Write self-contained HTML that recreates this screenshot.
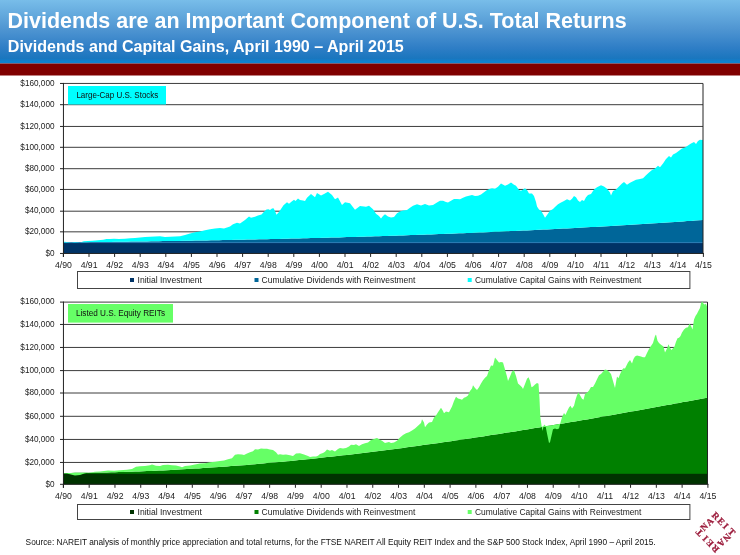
<!DOCTYPE html>
<html><head><meta charset="utf-8"><style>
html,body{margin:0;padding:0;background:#fff;}
body{width:740px;height:555px;overflow:hidden;}
svg{display:block;font-family:"Liberation Sans", sans-serif;will-change:transform;}
.ax{font-size:8.7px;fill:#222;}
.ay{font-size:9.1px;fill:#222;}
.bt{font-size:8.4px;fill:#111;}
.lg{font-size:8.2px;fill:#222;}
.src{font-size:8.9px;fill:#111;}
</style></head><body>
<svg width="740" height="555" viewBox="0 0 740 555">
<defs>
<linearGradient id="hdr" x1="0" y1="0" x2="0" y2="1">
<stop offset="0" stop-color="#78bde9"/>
<stop offset="0.45" stop-color="#5096d2"/>
<stop offset="0.75" stop-color="#2f7ec6"/>
<stop offset="0.92" stop-color="#1a76be"/>
<stop offset="0.97" stop-color="#0f82d0"/>
<stop offset="1" stop-color="#0f82d0"/>
</linearGradient>
</defs>
<rect x="0" y="0" width="740" height="63.5" fill="url(#hdr)"/>
<rect x="0" y="63.5" width="740" height="12" fill="#800000"/>
<text x="7.6" y="28.3" font-weight="bold" font-size="22.5" fill="#fff" textLength="619" lengthAdjust="spacingAndGlyphs">Dividends are an Important Component of U.S. Total Returns</text>
<text x="7.8" y="51.7" font-weight="bold" font-size="15.6" fill="#fff" textLength="396" lengthAdjust="spacingAndGlyphs">Dividends and Capital Gains, April 1990 &#8211; April 2015</text>
<line x1="63" y1="83.45" x2="703" y2="83.45" stroke="#3c3c3c" stroke-width="1"/>
<line x1="63" y1="104.70" x2="703" y2="104.70" stroke="#3c3c3c" stroke-width="1"/>
<line x1="63" y1="126.45" x2="703" y2="126.45" stroke="#3c3c3c" stroke-width="1"/>
<line x1="63" y1="147.30" x2="703" y2="147.30" stroke="#3c3c3c" stroke-width="1"/>
<line x1="63" y1="168.70" x2="703" y2="168.70" stroke="#3c3c3c" stroke-width="1"/>
<line x1="63" y1="189.45" x2="703" y2="189.45" stroke="#3c3c3c" stroke-width="1"/>
<line x1="63" y1="211.20" x2="703" y2="211.20" stroke="#3c3c3c" stroke-width="1"/>
<line x1="63" y1="231.84" x2="703" y2="231.84" stroke="#3c3c3c" stroke-width="1"/>
<polygon points="63,253.44 63.0,242.4 67.0,242.4 71.0,242.4 75.0,242.3 79.0,242.3 83.0,242.2 87.0,242.2 91.0,242.1 95.0,242.1 99.0,242.0 103.0,242.0 107.0,241.9 111.0,241.9 115.0,241.8 119.0,241.8 123.0,241.7 127.0,241.7 131.0,241.6 135.0,241.6 139.0,241.5 143.0,241.4 147.0,241.4 151.0,241.3 155.0,241.3 159.0,241.2 163.0,241.1 167.0,241.1 171.0,241.0 175.0,240.9 179.0,240.9 183.0,240.8 187.0,240.7 191.0,240.7 195.0,240.6 199.0,240.5 203.0,240.4 207.0,240.4 211.0,240.3 215.0,240.2 219.0,240.2 223.0,240.1 227.0,240.0 231.0,239.9 235.0,239.8 239.0,239.8 243.0,239.7 247.0,239.6 251.0,239.5 255.0,239.4 259.0,239.3 263.0,239.2 267.0,239.2 271.0,239.1 275.0,239.0 279.0,238.9 283.0,238.8 287.0,238.7 291.0,238.6 295.0,238.5 299.0,238.4 303.0,238.3 307.0,238.2 311.0,238.1 315.0,238.0 319.0,237.9 323.0,237.8 327.0,237.7 331.0,237.6 335.0,237.5 339.0,237.4 343.0,237.2 347.0,237.1 351.0,237.0 355.0,236.9 359.0,236.8 363.0,236.7 367.0,236.5 371.0,236.4 375.0,236.3 379.0,236.2 383.0,236.0 387.0,235.9 391.0,235.8 395.0,235.7 399.0,235.5 403.0,235.4 407.0,235.3 411.0,235.1 415.0,235.0 419.0,234.8 423.0,234.7 427.0,234.6 431.0,234.4 435.0,234.3 439.0,234.1 443.0,234.0 447.0,233.8 451.0,233.7 455.0,233.5 459.0,233.3 463.0,233.2 467.0,233.0 471.0,232.9 475.0,232.7 479.0,232.5 483.0,232.4 487.0,232.2 491.0,232.0 495.0,231.8 499.0,231.7 503.0,231.5 507.0,231.3 511.0,231.1 515.0,231.0 519.0,230.8 523.0,230.6 527.0,230.4 531.0,230.2 535.0,230.0 539.0,229.8 543.0,229.6 547.0,229.4 551.0,229.2 555.0,229.0 559.0,228.8 563.0,228.6 567.0,228.4 571.0,228.2 575.0,228.0 579.0,227.8 583.0,227.6 587.0,227.3 591.0,227.1 595.0,226.9 599.0,226.7 603.0,226.4 607.0,226.2 611.0,226.0 615.0,225.7 619.0,225.5 623.0,225.3 627.0,225.0 631.0,224.8 635.0,224.5 639.0,224.3 643.0,224.0 647.0,223.8 651.0,223.5 655.0,223.3 659.0,223.0 663.0,222.8 667.0,222.5 671.0,222.2 675.0,222.0 679.0,221.7 683.0,221.4 687.0,221.1 691.0,220.9 695.0,220.6 699.0,220.3 703.0,220.0 703,253.44" fill="#006699"/>
<rect x="63" y="242.6" width="640" height="10.840000000000003" fill="#003366"/>
<line x1="63" y1="242.6" x2="703" y2="242.6" stroke="#3a8cc4" stroke-width="0.8"/>
<polygon points="63.0,242.4 64.3,241.8 69.0,242.2 74.0,242.8 78.0,242.5 81.6,242.1 83.8,241.2 88.0,240.9 92.4,240.7 98.0,240.2 103.2,239.8 106.5,239.0 110.0,239.0 114.0,238.8 119.0,238.9 124.9,238.7 130.3,238.3 135.0,238.0 140.0,237.5 145.0,237.1 150.0,236.8 155.0,236.5 160.0,236.2 165.0,237.1 170.0,236.8 175.0,236.5 180.0,236.2 185.0,235.1 190.0,233.5 195.0,232.2 200.0,231.4 205.0,230.3 210.0,229.2 215.0,228.5 220.0,227.9 224.0,228.6 227.0,227.5 230.0,226.5 233.0,224.3 237.0,222.7 240.0,223.6 242.5,221.8 245.0,220.0 247.0,218.2 249.0,216.4 251.0,217.8 255.0,216.8 258.0,215.4 261.5,214.4 264.0,211.7 266.5,209.5 268.5,209.3 270.0,210.0 272.0,208.5 273.5,208.3 275.0,211.0 276.5,214.7 279.0,212.0 281.0,209.0 283.5,205.3 287.0,202.2 289.0,203.8 292.0,201.2 294.0,199.7 295.5,200.9 298.0,198.4 300.0,200.0 303.0,200.5 305.0,201.1 307.0,197.8 311.0,194.1 315.0,197.3 317.0,193.0 321.0,195.4 324.0,194.1 328.0,191.7 332.0,195.1 335.0,199.2 338.0,197.5 342.0,205.1 345.0,202.2 350.0,203.2 355.0,209.7 360.0,205.9 366.0,206.8 369.0,205.7 373.0,209.2 376.0,213.8 379.0,216.0 381.0,218.6 383.0,216.0 385.0,214.3 388.0,216.5 391.0,217.6 394.0,217.0 397.0,213.2 400.0,211.6 403.0,210.5 407.0,210.0 410.0,207.8 413.0,205.7 417.0,204.3 421.0,205.4 425.0,204.1 429.0,205.4 433.0,204.9 437.0,202.4 440.0,200.8 443.0,200.8 446.0,201.9 448.0,202.6 451.0,200.7 454.0,199.0 457.0,199.0 460.0,199.3 463.0,197.7 466.0,196.6 469.0,195.8 472.0,195.0 475.0,196.1 478.0,195.8 481.0,194.5 484.0,192.3 487.0,190.1 490.0,188.8 492.0,188.2 495.0,188.8 498.0,186.7 501.0,183.4 505.0,185.8 508.0,184.5 511.0,182.4 514.0,184.7 516.0,185.8 519.0,190.1 521.0,190.8 523.0,189.6 525.0,188.2 527.0,190.1 529.0,193.4 532.0,193.6 534.0,196.1 536.0,202.0 537.0,206.4 539.0,209.6 541.0,210.7 543.0,213.9 545.0,217.7 547.0,215.0 550.0,210.7 553.0,209.1 555.0,206.9 558.0,204.2 561.0,202.6 564.0,200.9 567.0,199.3 570.0,200.4 572.0,198.8 574.0,196.1 576.0,197.2 578.0,200.4 580.0,202.0 582.0,199.9 584.0,201.0 586.0,197.2 588.0,195.0 591.0,193.9 594.0,189.6 597.0,187.2 601.0,185.3 604.0,186.5 607.0,188.7 610.0,192.4 611.0,195.4 613.0,191.0 616.0,189.5 619.0,186.5 622.0,183.5 624.0,182.0 627.0,184.7 630.0,182.8 633.0,181.3 636.0,179.8 640.0,179.1 643.0,178.3 646.0,175.3 649.0,172.4 652.0,170.1 655.0,168.6 658.0,165.7 660.0,167.2 663.0,163.4 666.0,159.0 669.0,156.0 671.0,157.5 673.0,154.5 676.0,153.0 679.0,150.8 682.0,148.6 685.0,147.5 688.0,145.6 691.0,143.4 694.0,141.9 696.0,144.1 698.0,141.1 700.0,139.7 702.0,140.1 703.0,139.7 703.0,220.0 699.0,220.3 695.0,220.6 691.0,220.9 687.0,221.1 683.0,221.4 679.0,221.7 675.0,222.0 671.0,222.2 667.0,222.5 663.0,222.8 659.0,223.0 655.0,223.3 651.0,223.5 647.0,223.8 643.0,224.0 639.0,224.3 635.0,224.5 631.0,224.8 627.0,225.0 623.0,225.3 619.0,225.5 615.0,225.7 611.0,226.0 607.0,226.2 603.0,226.4 599.0,226.7 595.0,226.9 591.0,227.1 587.0,227.3 583.0,227.6 579.0,227.8 575.0,228.0 571.0,228.2 567.0,228.4 563.0,228.6 559.0,228.8 555.0,229.0 551.0,229.2 547.0,229.4 543.0,229.6 539.0,229.8 535.0,230.0 531.0,230.2 527.0,230.4 523.0,230.6 519.0,230.8 515.0,231.0 511.0,231.1 507.0,231.3 503.0,231.5 499.0,231.7 495.0,231.8 491.0,232.0 487.0,232.2 483.0,232.4 479.0,232.5 475.0,232.7 471.0,232.9 467.0,233.0 463.0,233.2 459.0,233.3 455.0,233.5 451.0,233.7 447.0,233.8 443.0,234.0 439.0,234.1 435.0,234.3 431.0,234.4 427.0,234.6 423.0,234.7 419.0,234.8 415.0,235.0 411.0,235.1 407.0,235.3 403.0,235.4 399.0,235.5 395.0,235.7 391.0,235.8 387.0,235.9 383.0,236.0 379.0,236.2 375.0,236.3 371.0,236.4 367.0,236.5 363.0,236.7 359.0,236.8 355.0,236.9 351.0,237.0 347.0,237.1 343.0,237.2 339.0,237.4 335.0,237.5 331.0,237.6 327.0,237.7 323.0,237.8 319.0,237.9 315.0,238.0 311.0,238.1 307.0,238.2 303.0,238.3 299.0,238.4 295.0,238.5 291.0,238.6 287.0,238.7 283.0,238.8 279.0,238.9 275.0,239.0 271.0,239.1 267.0,239.2 263.0,239.2 259.0,239.3 255.0,239.4 251.0,239.5 247.0,239.6 243.0,239.7 239.0,239.8 235.0,239.8 231.0,239.9 227.0,240.0 223.0,240.1 219.0,240.2 215.0,240.2 211.0,240.3 207.0,240.4 203.0,240.4 199.0,240.5 195.0,240.6 191.0,240.7 187.0,240.7 183.0,240.8 179.0,240.9 175.0,240.9 171.0,241.0 167.0,241.1 163.0,241.1 159.0,241.2 155.0,241.3 151.0,241.3 147.0,241.4 143.0,241.4 139.0,241.5 135.0,241.6 131.0,241.6 127.0,241.7 123.0,241.7 119.0,241.8 115.0,241.8 111.0,241.9 107.0,241.9 103.0,242.0 99.0,242.0 95.0,242.1 91.0,242.1 87.0,242.2 83.0,242.2 79.0,242.3 75.0,242.3 71.0,242.4 67.0,242.4 63.0,242.4" fill="#00ffff" fill-rule="nonzero"/>
<line x1="703" y1="83.45" x2="703" y2="253.44" stroke="#222" stroke-width="1"/>
<line x1="63.45" y1="83.45" x2="63.45" y2="256.94" stroke="#222" stroke-width="1"/>
<line x1="63" y1="253.44" x2="704" y2="253.44" stroke="#222" stroke-width="1"/>
<line x1="60" y1="83.45" x2="64" y2="83.45" stroke="#222" stroke-width="1"/>
<text x="54.5" y="85.65" text-anchor="end" class="ay" textLength="34.17" lengthAdjust="spacingAndGlyphs">$160,000</text>
<line x1="60" y1="104.7" x2="64" y2="104.7" stroke="#222" stroke-width="1"/>
<text x="54.5" y="106.90" text-anchor="end" class="ay" textLength="34.17" lengthAdjust="spacingAndGlyphs">$140,000</text>
<line x1="60" y1="126.45" x2="64" y2="126.45" stroke="#222" stroke-width="1"/>
<text x="54.5" y="128.65" text-anchor="end" class="ay" textLength="34.17" lengthAdjust="spacingAndGlyphs">$120,000</text>
<line x1="60" y1="147.3" x2="64" y2="147.3" stroke="#222" stroke-width="1"/>
<text x="54.5" y="149.50" text-anchor="end" class="ay" textLength="34.17" lengthAdjust="spacingAndGlyphs">$100,000</text>
<line x1="60" y1="168.7" x2="64" y2="168.7" stroke="#222" stroke-width="1"/>
<text x="54.5" y="170.90" text-anchor="end" class="ay" textLength="29.61" lengthAdjust="spacingAndGlyphs">$80,000</text>
<line x1="60" y1="189.45" x2="64" y2="189.45" stroke="#222" stroke-width="1"/>
<text x="54.5" y="191.65" text-anchor="end" class="ay" textLength="29.61" lengthAdjust="spacingAndGlyphs">$60,000</text>
<line x1="60" y1="211.2" x2="64" y2="211.2" stroke="#222" stroke-width="1"/>
<text x="54.5" y="213.40" text-anchor="end" class="ay" textLength="29.61" lengthAdjust="spacingAndGlyphs">$40,000</text>
<line x1="60" y1="231.84" x2="64" y2="231.84" stroke="#222" stroke-width="1"/>
<text x="54.5" y="234.04" text-anchor="end" class="ay" textLength="29.61" lengthAdjust="spacingAndGlyphs">$20,000</text>
<line x1="60" y1="253.44" x2="64" y2="253.44" stroke="#222" stroke-width="1"/>
<text x="54.5" y="255.64" text-anchor="end" class="ay" textLength="9.12" lengthAdjust="spacingAndGlyphs">$0</text>
<line x1="63.4" y1="253.44" x2="63.4" y2="256.94" stroke="#222" stroke-width="1"/>
<text x="63.5" y="267.6" text-anchor="middle" class="ax">4/90</text>
<line x1="89.0" y1="253.44" x2="89.0" y2="256.94" stroke="#222" stroke-width="1"/>
<text x="89.1" y="267.6" text-anchor="middle" class="ax">4/91</text>
<line x1="114.60000000000001" y1="253.44" x2="114.60000000000001" y2="256.94" stroke="#222" stroke-width="1"/>
<text x="114.7" y="267.6" text-anchor="middle" class="ax">4/92</text>
<line x1="140.20000000000002" y1="253.44" x2="140.20000000000002" y2="256.94" stroke="#222" stroke-width="1"/>
<text x="140.3" y="267.6" text-anchor="middle" class="ax">4/93</text>
<line x1="165.8" y1="253.44" x2="165.8" y2="256.94" stroke="#222" stroke-width="1"/>
<text x="165.9" y="267.6" text-anchor="middle" class="ax">4/94</text>
<line x1="191.4" y1="253.44" x2="191.4" y2="256.94" stroke="#222" stroke-width="1"/>
<text x="191.5" y="267.6" text-anchor="middle" class="ax">4/95</text>
<line x1="217.0" y1="253.44" x2="217.0" y2="256.94" stroke="#222" stroke-width="1"/>
<text x="217.1" y="267.6" text-anchor="middle" class="ax">4/96</text>
<line x1="242.6" y1="253.44" x2="242.6" y2="256.94" stroke="#222" stroke-width="1"/>
<text x="242.7" y="267.6" text-anchor="middle" class="ax">4/97</text>
<line x1="268.2" y1="253.44" x2="268.2" y2="256.94" stroke="#222" stroke-width="1"/>
<text x="268.3" y="267.6" text-anchor="middle" class="ax">4/98</text>
<line x1="293.79999999999995" y1="253.44" x2="293.79999999999995" y2="256.94" stroke="#222" stroke-width="1"/>
<text x="293.9" y="267.6" text-anchor="middle" class="ax">4/99</text>
<line x1="319.4" y1="253.44" x2="319.4" y2="256.94" stroke="#222" stroke-width="1"/>
<text x="319.5" y="267.6" text-anchor="middle" class="ax">4/00</text>
<line x1="345.0" y1="253.44" x2="345.0" y2="256.94" stroke="#222" stroke-width="1"/>
<text x="345.1" y="267.6" text-anchor="middle" class="ax">4/01</text>
<line x1="370.59999999999997" y1="253.44" x2="370.59999999999997" y2="256.94" stroke="#222" stroke-width="1"/>
<text x="370.7" y="267.6" text-anchor="middle" class="ax">4/02</text>
<line x1="396.2" y1="253.44" x2="396.2" y2="256.94" stroke="#222" stroke-width="1"/>
<text x="396.3" y="267.6" text-anchor="middle" class="ax">4/03</text>
<line x1="421.79999999999995" y1="253.44" x2="421.79999999999995" y2="256.94" stroke="#222" stroke-width="1"/>
<text x="421.9" y="267.6" text-anchor="middle" class="ax">4/04</text>
<line x1="447.4" y1="253.44" x2="447.4" y2="256.94" stroke="#222" stroke-width="1"/>
<text x="447.5" y="267.6" text-anchor="middle" class="ax">4/05</text>
<line x1="473.0" y1="253.44" x2="473.0" y2="256.94" stroke="#222" stroke-width="1"/>
<text x="473.1" y="267.6" text-anchor="middle" class="ax">4/06</text>
<line x1="498.59999999999997" y1="253.44" x2="498.59999999999997" y2="256.94" stroke="#222" stroke-width="1"/>
<text x="498.7" y="267.6" text-anchor="middle" class="ax">4/07</text>
<line x1="524.1999999999999" y1="253.44" x2="524.1999999999999" y2="256.94" stroke="#222" stroke-width="1"/>
<text x="524.3" y="267.6" text-anchor="middle" class="ax">4/08</text>
<line x1="549.8" y1="253.44" x2="549.8" y2="256.94" stroke="#222" stroke-width="1"/>
<text x="549.9" y="267.6" text-anchor="middle" class="ax">4/09</text>
<line x1="575.4" y1="253.44" x2="575.4" y2="256.94" stroke="#222" stroke-width="1"/>
<text x="575.5" y="267.6" text-anchor="middle" class="ax">4/10</text>
<line x1="601.0" y1="253.44" x2="601.0" y2="256.94" stroke="#222" stroke-width="1"/>
<text x="601.1" y="267.6" text-anchor="middle" class="ax">4/11</text>
<line x1="626.6" y1="253.44" x2="626.6" y2="256.94" stroke="#222" stroke-width="1"/>
<text x="626.7" y="267.6" text-anchor="middle" class="ax">4/12</text>
<line x1="652.1999999999999" y1="253.44" x2="652.1999999999999" y2="256.94" stroke="#222" stroke-width="1"/>
<text x="652.3" y="267.6" text-anchor="middle" class="ax">4/13</text>
<line x1="677.8" y1="253.44" x2="677.8" y2="256.94" stroke="#222" stroke-width="1"/>
<text x="677.9" y="267.6" text-anchor="middle" class="ax">4/14</text>
<line x1="703.4" y1="253.44" x2="703.4" y2="256.94" stroke="#222" stroke-width="1"/>
<text x="703.5" y="267.6" text-anchor="middle" class="ax">4/15</text>
<rect x="68" y="86" width="98" height="18.5" fill="#00ffff"/>
<text x="76.4" y="97.8" class="bt" textLength="82" lengthAdjust="spacingAndGlyphs">Large-Cap U.S. Stocks</text>
<rect x="77.5" y="271.5" width="612.4" height="17" fill="#fff" stroke="#444" stroke-width="1"/>
<rect x="130" y="278" width="4" height="4" fill="#003366"/>
<text x="137.5" y="283" class="lg" textLength="64.5" lengthAdjust="spacingAndGlyphs">Initial Investment</text>
<rect x="254.5" y="278" width="4" height="4" fill="#006699"/>
<text x="261.6" y="283" class="lg" textLength="153.8" lengthAdjust="spacingAndGlyphs">Cumulative Dividends with Reinvestment</text>
<rect x="467.7" y="278" width="4" height="4" fill="#00ffff"/>
<text x="474.9" y="283" class="lg" textLength="166.5" lengthAdjust="spacingAndGlyphs">Cumulative Capital Gains with Reinvestment</text>
<line x1="63" y1="302.10" x2="707.5" y2="302.10" stroke="#3c3c3c" stroke-width="1"/>
<line x1="63" y1="324.45" x2="707.5" y2="324.45" stroke="#3c3c3c" stroke-width="1"/>
<line x1="63" y1="347.45" x2="707.5" y2="347.45" stroke="#3c3c3c" stroke-width="1"/>
<line x1="63" y1="370.60" x2="707.5" y2="370.60" stroke="#3c3c3c" stroke-width="1"/>
<line x1="63" y1="393.00" x2="707.5" y2="393.00" stroke="#3c3c3c" stroke-width="1"/>
<line x1="63" y1="416.30" x2="707.5" y2="416.30" stroke="#3c3c3c" stroke-width="1"/>
<line x1="63" y1="439.45" x2="707.5" y2="439.45" stroke="#3c3c3c" stroke-width="1"/>
<line x1="63" y1="462.45" x2="707.5" y2="462.45" stroke="#3c3c3c" stroke-width="1"/>
<polygon points="63,484.3 63.0,473.5 67.0,472.9 71.0,472.9 75.0,472.8 79.0,472.8 83.0,472.8 87.0,472.7 91.0,472.7 95.0,472.6 99.0,472.5 103.0,472.4 107.0,472.4 111.0,472.3 115.0,472.2 119.0,472.1 123.0,471.9 127.0,471.8 131.0,471.7 135.0,471.5 139.0,471.4 143.0,471.2 147.0,471.1 151.0,470.9 155.0,470.7 159.0,470.6 163.0,470.4 167.0,470.2 171.0,470.0 175.0,469.8 179.0,469.5 183.0,469.3 187.0,469.1 191.0,468.8 195.0,468.6 199.0,468.4 203.0,468.1 207.0,467.8 211.0,467.6 215.0,467.3 219.0,467.0 223.0,466.7 227.0,466.4 231.0,466.1 235.0,465.8 239.0,465.5 243.0,465.2 247.0,464.9 251.0,464.5 255.0,464.2 259.0,463.8 263.0,463.5 267.0,463.1 271.0,462.8 275.0,462.4 279.0,462.0 283.0,461.7 287.0,461.3 291.0,460.9 295.0,460.5 299.0,460.1 303.0,459.7 307.0,459.3 311.0,458.9 315.0,458.4 319.0,458.0 323.0,457.6 327.0,457.1 331.0,456.7 335.0,456.2 339.0,455.8 343.0,455.3 347.0,454.9 351.0,454.4 355.0,453.9 359.0,453.4 363.0,453.0 367.0,452.5 371.0,452.0 375.0,451.5 379.0,451.0 383.0,450.5 387.0,449.9 391.0,449.4 395.0,448.9 399.0,448.4 403.0,447.9 407.0,447.3 411.0,446.8 415.0,446.2 419.0,445.7 423.0,445.1 427.0,444.6 431.0,444.0 435.0,443.5 439.0,442.9 443.0,442.3 447.0,441.7 451.0,441.2 455.0,440.6 459.0,440.0 463.0,439.4 467.0,438.8 471.0,438.2 475.0,437.6 479.0,437.0 483.0,436.4 487.0,435.8 491.0,435.1 495.0,434.5 499.0,433.9 503.0,433.3 507.0,432.6 511.0,432.0 515.0,431.4 519.0,430.7 523.0,430.1 527.0,429.4 531.0,428.8 535.0,428.1 539.0,427.5 543.0,426.8 547.0,426.1 551.0,425.5 555.0,424.8 559.0,424.1 563.0,423.5 567.0,422.8 571.0,422.1 575.0,421.4 579.0,420.7 583.0,420.1 587.0,419.4 591.0,418.7 595.0,418.0 599.0,417.3 603.0,416.6 607.0,415.9 611.0,415.2 615.0,414.5 619.0,413.8 623.0,413.0 627.0,412.3 631.0,411.6 635.0,410.9 639.0,410.2 643.0,409.5 647.0,408.7 651.0,408.0 655.0,407.3 659.0,406.6 663.0,405.8 667.0,405.1 671.0,404.4 675.0,403.6 679.0,402.9 683.0,402.1 687.0,401.4 691.0,400.7 695.0,399.9 699.0,399.2 703.0,398.4 707.0,397.7 707.5,397.6 707.5,484.3" fill="#008000"/>
<rect x="63" y="473.8" width="644.5" height="10.5" fill="#003300"/>
<polygon points="63.0,473.4 67.0,473.5 70.0,474.3 75.0,475.4 80.0,475.1 85.0,473.2 90.0,472.5 95.0,471.8 100.0,471.4 108.0,470.5 114.0,470.8 120.0,470.3 127.0,469.7 132.0,468.9 136.0,466.8 140.0,466.2 145.0,466.1 150.0,465.3 152.0,464.5 156.0,465.8 160.0,466.1 163.0,465.0 168.0,464.8 172.0,465.2 176.0,465.5 180.0,466.6 182.0,467.2 185.0,466.1 190.0,465.5 195.0,464.5 200.0,463.6 205.0,463.2 210.0,462.3 215.0,461.8 220.0,461.0 224.0,460.4 228.0,459.3 232.0,458.2 235.0,454.7 238.0,454.2 242.0,454.5 244.0,455.0 247.0,453.6 250.0,452.3 253.0,451.2 255.0,449.3 258.0,449.6 261.0,448.5 264.0,448.8 267.0,448.8 270.0,449.6 273.0,450.1 276.0,452.3 278.0,454.8 280.0,454.2 283.0,454.7 286.0,454.5 290.0,455.3 293.0,456.1 296.0,453.4 300.0,453.3 304.0,454.4 308.0,456.1 310.0,456.9 313.0,456.4 316.0,456.6 318.0,455.8 320.0,454.0 323.0,452.9 325.0,451.8 327.0,449.6 330.0,450.7 332.0,450.1 335.0,451.5 338.0,449.0 340.0,447.9 343.0,448.6 346.0,447.9 349.0,446.6 351.0,444.7 354.0,445.0 356.0,444.2 359.0,446.1 362.0,444.2 365.0,443.2 368.0,442.5 371.0,440.1 374.0,439.1 377.0,438.0 379.0,439.2 382.0,440.8 385.0,443.0 387.0,442.4 389.0,441.9 391.0,443.0 394.0,442.4 397.0,440.8 400.0,437.6 403.0,434.9 406.0,433.2 409.0,432.2 412.0,430.5 415.0,428.4 418.0,425.7 421.0,423.0 422.0,419.2 424.0,422.4 425.0,427.3 427.0,424.6 429.0,422.4 432.0,421.9 434.0,417.6 436.0,415.4 438.0,412.2 441.0,407.8 443.0,411.1 444.0,413.2 446.0,411.6 449.0,412.2 452.0,406.5 454.0,401.1 456.0,396.7 458.0,398.6 460.0,399.0 462.0,399.8 464.0,397.7 466.0,396.9 468.0,395.4 470.0,391.0 472.0,388.5 473.0,385.3 475.0,387.9 477.0,390.1 479.0,387.2 481.0,383.4 483.0,380.3 485.0,377.8 487.0,375.9 489.0,370.2 491.0,365.4 493.0,365.8 495.0,357.6 497.0,360.1 499.0,362.4 501.0,362.0 503.0,362.4 505.0,369.6 507.0,376.5 508.0,380.9 510.0,376.5 512.0,371.5 514.0,370.2 516.0,375.9 518.0,383.4 520.0,385.3 522.0,387.2 523.0,389.1 525.0,384.0 527.0,378.8 528.5,377.2 530.0,380.8 531.5,387.3 533.0,386.6 535.0,384.4 537.0,383.0 538.5,383.7 539.5,398.8 540.3,417.0 541.5,425.3 542.5,431.0 544.0,424.5 545.5,425.7 547.0,433.4 549.0,443.1 550.0,442.3 551.5,435.8 553.0,429.3 555.0,428.5 557.0,429.3 559.0,428.5 560.5,422.4 562.0,417.2 564.0,413.1 565.5,415.1 567.0,411.6 569.0,407.5 570.5,405.7 572.0,408.6 574.0,405.7 575.5,399.8 577.0,395.2 578.5,392.2 580.0,395.2 582.0,398.7 583.5,399.8 585.0,394.0 587.0,392.8 589.0,390.5 591.0,387.0 593.0,387.0 595.0,383.4 597.0,379.3 599.0,375.2 601.0,374.1 603.0,371.7 605.0,369.4 607.0,370.0 609.0,371.7 611.0,374.1 613.0,381.1 615.0,388.1 616.0,382.3 617.0,376.5 618.5,378.2 620.0,374.2 622.0,370.1 623.5,368.3 625.0,368.5 626.5,365.4 628.0,362.4 630.0,360.1 632.0,363.6 633.5,358.9 635.0,356.6 637.0,355.4 639.0,356.0 641.0,356.6 643.0,357.2 645.0,357.2 647.0,353.1 649.0,349.0 651.0,346.1 653.0,343.1 655.0,336.1 656.0,334.4 657.5,340.8 659.0,343.1 661.0,344.8 663.5,346.5 665.0,352.4 667.0,348.6 668.5,344.2 670.0,347.7 671.5,350.0 673.0,348.3 674.5,346.5 676.0,341.8 677.5,338.3 679.0,337.7 680.5,336.0 682.0,332.5 684.0,329.5 686.0,327.8 688.0,327.2 689.5,323.7 691.0,326.0 692.5,329.5 694.0,319.6 695.5,316.1 697.0,313.7 698.5,310.8 700.0,307.9 701.0,303.2 702.5,301.4 703.5,303.8 704.5,304.4 706.0,303.8 707.5,307.9 707.5,397.6 707.0,397.7 703.0,398.4 699.0,399.2 695.0,399.9 691.0,400.7 687.0,401.4 683.0,402.1 679.0,402.9 675.0,403.6 671.0,404.4 667.0,405.1 663.0,405.8 659.0,406.6 655.0,407.3 651.0,408.0 647.0,408.7 643.0,409.5 639.0,410.2 635.0,410.9 631.0,411.6 627.0,412.3 623.0,413.0 619.0,413.8 615.0,414.5 611.0,415.2 607.0,415.9 603.0,416.6 599.0,417.3 595.0,418.0 591.0,418.7 587.0,419.4 583.0,420.1 579.0,420.7 575.0,421.4 571.0,422.1 567.0,422.8 563.0,423.5 559.0,424.1 555.0,424.8 551.0,425.5 547.0,426.1 543.0,426.8 539.0,427.5 535.0,428.1 531.0,428.8 527.0,429.4 523.0,430.1 519.0,430.7 515.0,431.4 511.0,432.0 507.0,432.6 503.0,433.3 499.0,433.9 495.0,434.5 491.0,435.1 487.0,435.8 483.0,436.4 479.0,437.0 475.0,437.6 471.0,438.2 467.0,438.8 463.0,439.4 459.0,440.0 455.0,440.6 451.0,441.2 447.0,441.7 443.0,442.3 439.0,442.9 435.0,443.5 431.0,444.0 427.0,444.6 423.0,445.1 419.0,445.7 415.0,446.2 411.0,446.8 407.0,447.3 403.0,447.9 399.0,448.4 395.0,448.9 391.0,449.4 387.0,449.9 383.0,450.5 379.0,451.0 375.0,451.5 371.0,452.0 367.0,452.5 363.0,453.0 359.0,453.4 355.0,453.9 351.0,454.4 347.0,454.9 343.0,455.3 339.0,455.8 335.0,456.2 331.0,456.7 327.0,457.1 323.0,457.6 319.0,458.0 315.0,458.4 311.0,458.9 307.0,459.3 303.0,459.7 299.0,460.1 295.0,460.5 291.0,460.9 287.0,461.3 283.0,461.7 279.0,462.0 275.0,462.4 271.0,462.8 267.0,463.1 263.0,463.5 259.0,463.8 255.0,464.2 251.0,464.5 247.0,464.9 243.0,465.2 239.0,465.5 235.0,465.8 231.0,466.1 227.0,466.4 223.0,466.7 219.0,467.0 215.0,467.3 211.0,467.6 207.0,467.8 203.0,468.1 199.0,468.4 195.0,468.6 191.0,468.8 187.0,469.1 183.0,469.3 179.0,469.5 175.0,469.8 171.0,470.0 167.0,470.2 163.0,470.4 159.0,470.6 155.0,470.7 151.0,470.9 147.0,471.1 143.0,471.2 139.0,471.4 135.0,471.5 131.0,471.7 127.0,471.8 123.0,471.9 119.0,472.1 115.0,472.2 111.0,472.3 107.0,472.4 103.0,472.4 99.0,472.5 95.0,472.6 91.0,472.7 87.0,472.7 83.0,472.8 79.0,472.8 75.0,472.8 71.0,472.9 67.0,472.9 63.0,473.5" fill="#66ff66" fill-rule="nonzero"/>
<line x1="707.5" y1="302.1" x2="707.5" y2="484.3" stroke="#222" stroke-width="1"/>
<line x1="63.45" y1="302.1" x2="63.45" y2="487.8" stroke="#222" stroke-width="1"/>
<line x1="63" y1="484.3" x2="708.5" y2="484.3" stroke="#222" stroke-width="1"/>
<line x1="60" y1="302.1" x2="64" y2="302.1" stroke="#222" stroke-width="1"/>
<text x="54.5" y="304.30" text-anchor="end" class="ay" textLength="34.17" lengthAdjust="spacingAndGlyphs">$160,000</text>
<line x1="60" y1="324.45" x2="64" y2="324.45" stroke="#222" stroke-width="1"/>
<text x="54.5" y="326.65" text-anchor="end" class="ay" textLength="34.17" lengthAdjust="spacingAndGlyphs">$140,000</text>
<line x1="60" y1="347.45" x2="64" y2="347.45" stroke="#222" stroke-width="1"/>
<text x="54.5" y="349.65" text-anchor="end" class="ay" textLength="34.17" lengthAdjust="spacingAndGlyphs">$120,000</text>
<line x1="60" y1="370.6" x2="64" y2="370.6" stroke="#222" stroke-width="1"/>
<text x="54.5" y="372.80" text-anchor="end" class="ay" textLength="34.17" lengthAdjust="spacingAndGlyphs">$100,000</text>
<line x1="60" y1="393.0" x2="64" y2="393.0" stroke="#222" stroke-width="1"/>
<text x="54.5" y="395.20" text-anchor="end" class="ay" textLength="29.61" lengthAdjust="spacingAndGlyphs">$80,000</text>
<line x1="60" y1="416.3" x2="64" y2="416.3" stroke="#222" stroke-width="1"/>
<text x="54.5" y="418.50" text-anchor="end" class="ay" textLength="29.61" lengthAdjust="spacingAndGlyphs">$60,000</text>
<line x1="60" y1="439.45" x2="64" y2="439.45" stroke="#222" stroke-width="1"/>
<text x="54.5" y="441.65" text-anchor="end" class="ay" textLength="29.61" lengthAdjust="spacingAndGlyphs">$40,000</text>
<line x1="60" y1="462.45" x2="64" y2="462.45" stroke="#222" stroke-width="1"/>
<text x="54.5" y="464.65" text-anchor="end" class="ay" textLength="29.61" lengthAdjust="spacingAndGlyphs">$20,000</text>
<line x1="60" y1="484.3" x2="64" y2="484.3" stroke="#222" stroke-width="1"/>
<text x="54.5" y="486.50" text-anchor="end" class="ay" textLength="9.12" lengthAdjust="spacingAndGlyphs">$0</text>
<line x1="63.4" y1="484.3" x2="63.4" y2="487.8" stroke="#222" stroke-width="1"/>
<text x="63.5" y="498.5" text-anchor="middle" class="ax">4/90</text>
<line x1="89.18" y1="484.3" x2="89.18" y2="487.8" stroke="#222" stroke-width="1"/>
<text x="89.3" y="498.5" text-anchor="middle" class="ax">4/91</text>
<line x1="114.96000000000001" y1="484.3" x2="114.96000000000001" y2="487.8" stroke="#222" stroke-width="1"/>
<text x="115.1" y="498.5" text-anchor="middle" class="ax">4/92</text>
<line x1="140.74" y1="484.3" x2="140.74" y2="487.8" stroke="#222" stroke-width="1"/>
<text x="140.8" y="498.5" text-anchor="middle" class="ax">4/93</text>
<line x1="166.52" y1="484.3" x2="166.52" y2="487.8" stroke="#222" stroke-width="1"/>
<text x="166.6" y="498.5" text-anchor="middle" class="ax">4/94</text>
<line x1="192.3" y1="484.3" x2="192.3" y2="487.8" stroke="#222" stroke-width="1"/>
<text x="192.4" y="498.5" text-anchor="middle" class="ax">4/95</text>
<line x1="218.08" y1="484.3" x2="218.08" y2="487.8" stroke="#222" stroke-width="1"/>
<text x="218.2" y="498.5" text-anchor="middle" class="ax">4/96</text>
<line x1="243.86" y1="484.3" x2="243.86" y2="487.8" stroke="#222" stroke-width="1"/>
<text x="244.0" y="498.5" text-anchor="middle" class="ax">4/97</text>
<line x1="269.64" y1="484.3" x2="269.64" y2="487.8" stroke="#222" stroke-width="1"/>
<text x="269.7" y="498.5" text-anchor="middle" class="ax">4/98</text>
<line x1="295.41999999999996" y1="484.3" x2="295.41999999999996" y2="487.8" stroke="#222" stroke-width="1"/>
<text x="295.5" y="498.5" text-anchor="middle" class="ax">4/99</text>
<line x1="321.2" y1="484.3" x2="321.2" y2="487.8" stroke="#222" stroke-width="1"/>
<text x="321.3" y="498.5" text-anchor="middle" class="ax">4/00</text>
<line x1="346.97999999999996" y1="484.3" x2="346.97999999999996" y2="487.8" stroke="#222" stroke-width="1"/>
<text x="347.1" y="498.5" text-anchor="middle" class="ax">4/01</text>
<line x1="372.76" y1="484.3" x2="372.76" y2="487.8" stroke="#222" stroke-width="1"/>
<text x="372.9" y="498.5" text-anchor="middle" class="ax">4/02</text>
<line x1="398.53999999999996" y1="484.3" x2="398.53999999999996" y2="487.8" stroke="#222" stroke-width="1"/>
<text x="398.6" y="498.5" text-anchor="middle" class="ax">4/03</text>
<line x1="424.32" y1="484.3" x2="424.32" y2="487.8" stroke="#222" stroke-width="1"/>
<text x="424.4" y="498.5" text-anchor="middle" class="ax">4/04</text>
<line x1="450.09999999999997" y1="484.3" x2="450.09999999999997" y2="487.8" stroke="#222" stroke-width="1"/>
<text x="450.2" y="498.5" text-anchor="middle" class="ax">4/05</text>
<line x1="475.88" y1="484.3" x2="475.88" y2="487.8" stroke="#222" stroke-width="1"/>
<text x="476.0" y="498.5" text-anchor="middle" class="ax">4/06</text>
<line x1="501.65999999999997" y1="484.3" x2="501.65999999999997" y2="487.8" stroke="#222" stroke-width="1"/>
<text x="501.8" y="498.5" text-anchor="middle" class="ax">4/07</text>
<line x1="527.4399999999999" y1="484.3" x2="527.4399999999999" y2="487.8" stroke="#222" stroke-width="1"/>
<text x="527.5" y="498.5" text-anchor="middle" class="ax">4/08</text>
<line x1="553.2199999999999" y1="484.3" x2="553.2199999999999" y2="487.8" stroke="#222" stroke-width="1"/>
<text x="553.3" y="498.5" text-anchor="middle" class="ax">4/09</text>
<line x1="579.0" y1="484.3" x2="579.0" y2="487.8" stroke="#222" stroke-width="1"/>
<text x="579.1" y="498.5" text-anchor="middle" class="ax">4/10</text>
<line x1="604.78" y1="484.3" x2="604.78" y2="487.8" stroke="#222" stroke-width="1"/>
<text x="604.9" y="498.5" text-anchor="middle" class="ax">4/11</text>
<line x1="630.56" y1="484.3" x2="630.56" y2="487.8" stroke="#222" stroke-width="1"/>
<text x="630.7" y="498.5" text-anchor="middle" class="ax">4/12</text>
<line x1="656.34" y1="484.3" x2="656.34" y2="487.8" stroke="#222" stroke-width="1"/>
<text x="656.4" y="498.5" text-anchor="middle" class="ax">4/13</text>
<line x1="682.12" y1="484.3" x2="682.12" y2="487.8" stroke="#222" stroke-width="1"/>
<text x="682.2" y="498.5" text-anchor="middle" class="ax">4/14</text>
<line x1="707.9" y1="484.3" x2="707.9" y2="487.8" stroke="#222" stroke-width="1"/>
<text x="708.0" y="498.5" text-anchor="middle" class="ax">4/15</text>
<rect x="68" y="304" width="105" height="18.6" fill="#66ff66"/>
<text x="76" y="316.3" class="bt" textLength="89" lengthAdjust="spacingAndGlyphs">Listed U.S. Equity REITs</text>
<rect x="77.5" y="504.5" width="612.4" height="15" fill="#fff" stroke="#444" stroke-width="1"/>
<rect x="130" y="510" width="4" height="4" fill="#003300"/>
<text x="137.5" y="515.3" class="lg" textLength="64.5" lengthAdjust="spacingAndGlyphs">Initial Investment</text>
<rect x="254.5" y="510" width="4" height="4" fill="#008000"/>
<text x="261.6" y="515.3" class="lg" textLength="153.8" lengthAdjust="spacingAndGlyphs">Cumulative Dividends with Reinvestment</text>
<rect x="467.7" y="510" width="4" height="4" fill="#66ff66"/>
<text x="474.9" y="515.3" class="lg" textLength="166.5" lengthAdjust="spacingAndGlyphs">Cumulative Capital Gains with Reinvestment</text>
<text x="25.6" y="544.7" class="src" textLength="630" lengthAdjust="spacingAndGlyphs">Source: NAREIT analysis of monthly price appreciation and total returns, for the FTSE NAREIT All Equity REIT Index and the S&amp;P 500 Stock Index, April 1990 &#8211; April 2015.</text>
<g font-family="'Liberation Serif', serif" font-weight="bold" font-size="9.3" fill="#9c1c3c" stroke="#9c1c3c" stroke-width="0.25" text-anchor="middle">
<g transform="translate(715.5,532.3) rotate(0)">
<text transform="translate(-11.3,-5.4) rotate(-45)" x="0" y="3.2">N</text>
<text transform="translate(-6.0,-10.7) rotate(-45)" x="0" y="3.2">A</text>
<text transform="translate(0.3,-16.4) rotate(45)" x="0" y="3.2">R</text>
<text transform="translate(5.8,-10.9) rotate(45)" x="0" y="3.2">E</text>
<text transform="translate(10.4,-6.3) rotate(45)" x="0" y="3.2">I</text>
<text transform="translate(16.3,-0.4) rotate(45)" x="0" y="3.2">T</text>
</g>
<g transform="translate(715.5,532.3) rotate(180)">
<text transform="translate(-11.3,-5.4) rotate(-45)" x="0" y="3.2">N</text>
<text transform="translate(-6.0,-10.7) rotate(-45)" x="0" y="3.2">A</text>
<text transform="translate(0.3,-16.4) rotate(45)" x="0" y="3.2">R</text>
<text transform="translate(5.8,-10.9) rotate(45)" x="0" y="3.2">E</text>
<text transform="translate(10.4,-6.3) rotate(45)" x="0" y="3.2">I</text>
<text transform="translate(16.3,-0.4) rotate(45)" x="0" y="3.2">T</text>
</g>
</g>
</svg>
</body></html>
